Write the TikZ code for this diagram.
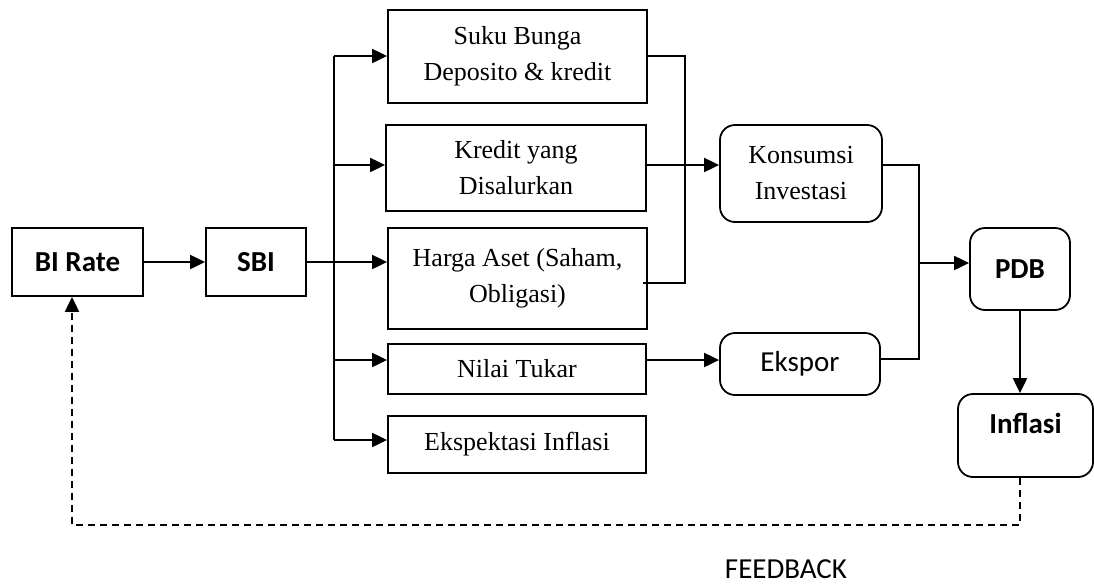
\documentclass[tikz,border=0pt]{standalone}
\usepackage{fontspec}
\setmainfont{Liberation Serif}
\newfontfamily\calibri{Carlito}
\usetikzlibrary{arrows.meta, positioning, calc}

\begin{document}
\begin{tikzpicture}[x=0.5pt, y=-0.5pt,
    sbox/.style={draw, line width=0.9pt, fill=white, inner sep=0pt, align=center, font=\fontsize{13}{18}\selectfont},
    rbox/.style={sbox, rounded corners=7.5pt},
    kbox/.style={draw, line width=0.9pt, fill=white, inner sep=0pt, align=center, font=\calibri\bfseries\fontsize{14.5}{17}\selectfont},
    flow/.style={line width=1pt, -{Triangle[length=7.5pt, width=7pt]}},
    link/.style={line width=1pt}]
    \useasboundingbox (0,0) rectangle (1094,585);

    % left part
    \node[kbox, minimum width=65.5pt, minimum height=34pt] (birate) at (77.5,262) {BI Rate};
    \node[kbox, minimum width=50pt, minimum height=34pt] (sbi) at (256,262) {SBI};

    % transmission channels
    \node[sbox, minimum width=129.5pt, minimum height=46.5pt] (suku) at (517.5,56.5) {Suku Bunga\\Deposito \& kredit};
    \node[sbox, minimum width=130pt, minimum height=43pt] (kredit) at (516,168) {Kredit yang\\Disalurkan};
    \node[sbox, minimum width=129.5pt, minimum height=50.5pt] (harga) at (517.5,278.5) {Harga Aset (Saham,\\Obligasi)};
    \node[sbox, minimum width=129pt, minimum height=25pt] (nilai) at (517,369) {Nilai Tukar};
    \node[sbox, minimum width=129pt, minimum height=28.5pt] (ekspek) at (517,444.5) {Ekspektasi Inflasi};

    % demand side
    \node[rbox, minimum width=81pt, minimum height=48.5pt] (konsumsi) at (801,173.5) {Konsumsi\\Investasi};
    \node[rbox, minimum width=80pt, minimum height=31pt, font=\calibri\fontsize{14.5}{17}\selectfont] (ekspor) at (800,364) {Ekspor};
    \node[kbox, rounded corners=7.5pt, minimum width=50pt, minimum height=41pt] (pdb) at (1020,269) {PDB};
    \node[kbox, rounded corners=7.5pt, minimum width=67.5pt, minimum height=41.5pt, text depth=12pt] (inflasi) at (1025.5,435.5) {Inflasi};

    \coordinate (trunktop) at (334,56);
    \coordinate (trunkbot) at (334,440);
    \coordinate (busa) at (685,56);
    \coordinate (busb) at (919,165);
    \coordinate (fbr) at (1020,525);
    \coordinate (fbl) at (72,525);

    \draw[flow] (birate) -- (sbi);
    \draw[flow] (sbi.east) -- (sbi.east -| harga.west);
    \draw[link] (trunktop) -- (trunkbot);
    \draw[flow] (trunktop) -- (trunktop -| suku.west);
    \draw[flow] (334,165) -- (kredit.west |- 0,165);
    \draw[flow] (334,360) -- (nilai.west |- 0,360);
    \draw[flow] (trunkbot) -- (trunkbot -| ekspek.west);

    \draw[link] (suku.east |- busa) -- (busa) -- (685,283) -- (643,283);
    \draw[flow] (kredit.east |- 0,165) -- (konsumsi.west |- 0,165);
    \draw[flow] (nilai.east |- 0,360) -- (ekspor.west |- 0,360);

    \draw[link] (konsumsi.east |- busb) -- (busb) -- (919,359) -- (ekspor.east |- 0,359);
    \draw[flow] (919,263) -- (pdb.west |- 0,263);
    \draw[flow] (pdb.south) -- (pdb.south |- inflasi.north);

    % feedback loop
    \draw[line width=1pt, dash pattern=on 3.5pt off 2.5pt, -{Triangle[length=7.5pt, width=7pt]}] (fbr |- inflasi.south) -- (fbr) -- (fbl) -- (fbl |- birate.south);
    \node[font=\calibri\fontsize{14.5}{17}\selectfont, anchor=base, inner sep=0pt] (feedback) at (786,578) {FEEDBACK};
\end{tikzpicture}
\end{document}
